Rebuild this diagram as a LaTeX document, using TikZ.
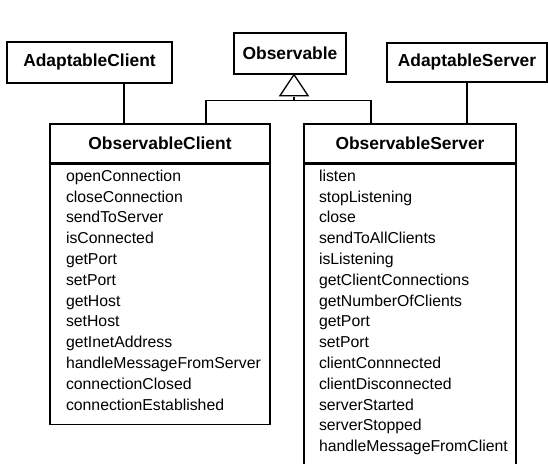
\documentclass[tikz,border=0pt]{standalone}
\usepackage{fontspec}
\setmainfont{Liberation Sans}
\usepackage{tikz}
\usetikzlibrary{positioning}

\begin{document}
\begin{tikzpicture}[x=1pt,y=-1pt,line width=1.3pt,
			classname/.style={draw, fill=white, font=\fontsize{17.4}{20}\selectfont\bfseries, inner sep=0pt},
			classbody/.style={draw, inner sep=0pt, anchor=north},
			methods/.style={font=\fontsize{15.8}{20.8}\selectfont, align=left, inner sep=0pt, anchor=north west}]
			\useasboundingbox (0,0) rectangle (548,463);
			\node[classname, minimum width=165, minimum height=41] (ac) at (89.5,62.5) {AdaptableClient};
			\node[classname, minimum width=112, minimum height=41] (obs) at (290,53.5) {Observable};
			\node[classname, minimum width=160, minimum height=39] (as) at (467,62.5) {AdaptableServer};
			\node[classname, minimum width=220, minimum height=39] (ocHead) at (160,143.5) {ObservableClient};
			\node[classbody, minimum width=220, minimum height=260] (ocBody) at (ocHead.south) {};
			\node[classname, minimum width=212, minimum height=39] (osHead) at (410,143.5) {ObservableServer};
			\node[classbody, minimum width=212, minimum height=306] (osBody) at (osHead.south) {};
			\node[methods, below right=5.5pt and 16pt of ocBody.north west] (ocOps) {openConnection\\closeConnection\\sendToServer\\isConnected\\getPort\\setPort\\getHost\\setHost\\getInetAddress\\handleMessageFromServer\\connectionClosed\\connectionEstablished};
			\node[methods, below right=5.5pt and 15pt of osBody.north west] (osOps) {listen\\stopListening\\close\\sendToAllClients\\isListening\\getClientConnections\\getNumberOfClients\\getPort\\setPort\\clientConnnected\\clientDisconnected\\serverStarted\\serverStopped\\handleMessageFromClient};
			\draw ([xshift=34.5]ac.south) -- ([xshift=34.5]ac.south |- ocHead.north);
			\draw (as.south) -- (as.south |- osHead.north);
			\coordinate (tip) at ([xshift=4]obs.south);
			\coordinate (bus) at ([yshift=-26]tip);
			\draw[fill=white] (tip) -- ++(-14,21) -- ++(28,0) -- cycle;
			\draw (bus) -- ++(0,-4);
			\draw ([xshift=46]ocHead.north) |- (bus) -| ([xshift=-39]osHead.north);
		\end{tikzpicture}
\end{document}
